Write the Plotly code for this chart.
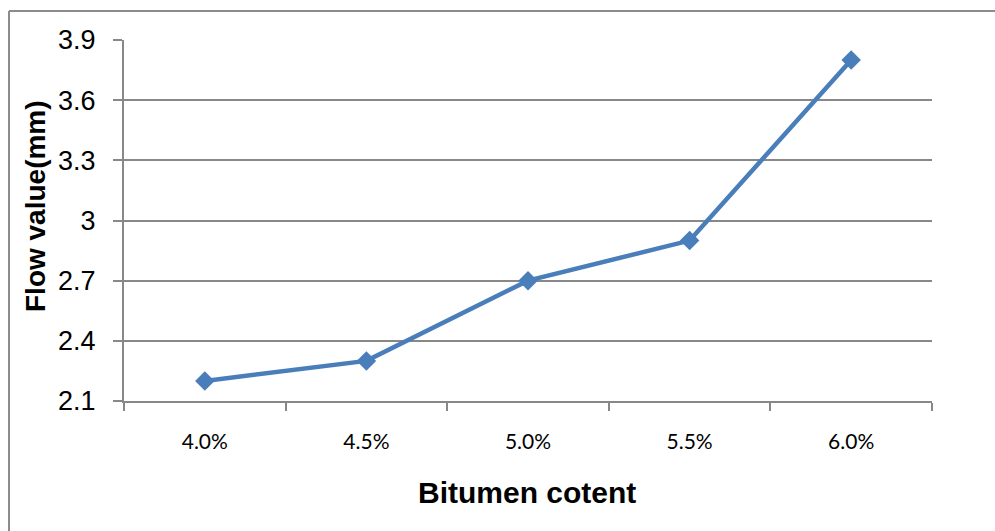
import plotly.graph_objects as go

# Flow value vs. bitumen content
bitumen_content = ["4.0%", "4.5%", "5.0%", "5.5%", "6.0%"]
flow_value = [2.2, 2.3, 2.7, 2.9, 3.8]
y_ticks = [2.1, 2.4, 2.7, 3.0, 3.3, 3.6, 3.9]
y_tick_text = ["2.1", "2.4", "2.7", "3", "3.3", "3.6", "3.9"]

W, H = 995, 531
L, R, T, B = 124, 63, 40, 130
pw, ph = W - L - R, H - T - B

def px_x(x):
    return (x - L) / pw

def px_y(y):
    return (H - B - y) / ph

grid = "#888888"
blue = "#4a7ebb"

fig = go.Figure()
fig.add_trace(go.Scatter(
    x=bitumen_content, y=flow_value, mode="lines+markers",
    line=dict(color=blue, width=4.5),
    marker=dict(symbol="diamond", size=15, color=blue),
    showlegend=False, cliponaxis=False,
))

fig.update_layout(
    width=W, height=H,
    margin=dict(l=L, r=R, t=T, b=B),
    paper_bgcolor="white", plot_bgcolor="white",
    xaxis=dict(
        type="category", range=[-0.5, 4.5], tickson="boundaries",
        showgrid=False, showline=True, linecolor=grid, linewidth=2,
        ticks="outside", ticklen=8, tickcolor=grid, tickwidth=2,
        tickfont=dict(family="Lato, Carlito, Calibri, sans-serif", size=21, color="black"),
        ticklabelstandoff=21,
    ),
    yaxis=dict(
        range=[2.1, 3.9], tickvals=y_ticks, ticktext=y_tick_text,
        showgrid=True, gridcolor=grid, gridwidth=1.5,
        showline=True, linecolor=grid, linewidth=2,
        ticks="outside", ticklen=9, tickcolor=grid, tickwidth=1.5,
        tickfont=dict(family="Liberation Sans, Arial, sans-serif", size=27, color="black"),
        ticklabelstandoff=12, zeroline=False,
    ),
    annotations=[
        dict(text="<b>Bitumen cotent</b>", x=px_x(527), y=px_y(492),
             xref="paper", yref="paper", showarrow=False,
             xanchor="center", yanchor="middle",
             font=dict(family="Liberation Sans, Arial, sans-serif", size=30, color="black")),
        dict(text="<b>Flow value(mm)</b>", x=px_x(35), y=px_y(206),
             xref="paper", yref="paper", showarrow=False, textangle=-90,
             xanchor="center", yanchor="middle",
             font=dict(family="Liberation Sans, Arial, sans-serif", size=28, color="black")),
    ],
    shapes=[
        dict(type="line", xref="paper", yref="paper",
             x0=px_x(9), y0=px_y(11), x1=px_x(1005), y1=px_y(11),
             line=dict(color="#8c8c8c", width=2)),
        dict(type="line", xref="paper", yref="paper",
             x0=px_x(9), y0=px_y(11), x1=px_x(9), y1=px_y(540),
             line=dict(color="#8c8c8c", width=2)),
    ],
)

fig.write_html("out.html")
